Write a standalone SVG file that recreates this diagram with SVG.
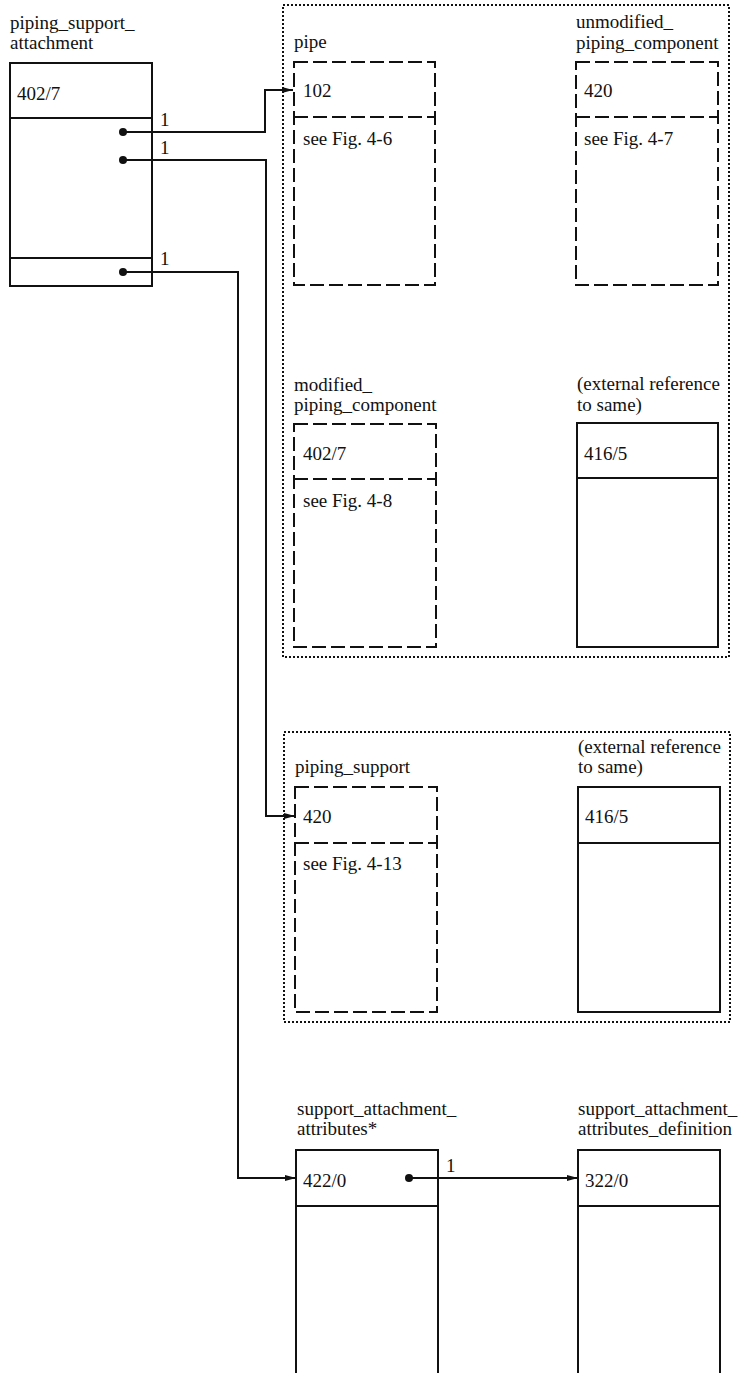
<svg xmlns="http://www.w3.org/2000/svg" width="742" height="1373" viewBox="0 0 742 1373">
<style>
text{font-family:"Liberation Serif","Times New Roman",serif;font-size:19px;fill:#111}
.box{fill:none;stroke:#111;stroke-width:2}
.dash{fill:none;stroke:#111;stroke-width:2;stroke-dasharray:14 5}
.dot{fill:none;stroke:#111;stroke-width:2;stroke-dasharray:2 2}
.conn{fill:none;stroke:#111;stroke-width:2}
.end{fill:#111}
</style>
<defs>
<marker id="arr" markerUnits="userSpaceOnUse" markerWidth="12" markerHeight="8" refX="11" refY="3" orient="auto">
<path d="M0,0 L11,3 L0,6 z" fill="#111"/>
</marker>
</defs>
<rect width="742" height="1373" fill="#fff"/>

<g id="container-1"><rect class="dot" x="283" y="5" width="446" height="652"/></g>
<g id="container-2"><rect class="dot" x="284" y="732" width="446" height="290"/></g>

<g id="piping_support_attachment">
<text x="10" y="29">piping_support_</text>
<text x="10" y="49">attachment</text>
<rect class="box" x="10" y="63" width="142" height="223"/>
<line class="box" x1="10" y1="118" x2="152" y2="118"/>
<line class="box" x1="10" y1="258" x2="152" y2="258"/>
<text x="17" y="100">402/7</text>
</g>

<g id="pipe">
<text x="294" y="48">pipe</text>
<rect class="dash" x="294" y="62" width="141" height="223"/>
<line class="dash" x1="294" y1="117" x2="435" y2="117"/>
<text x="303" y="97">102</text>
<text x="303" y="145">see Fig. 4-6</text>
</g>

<g id="unmodified_piping_component">
<text x="576" y="28">unmodified_</text>
<text x="576" y="49">piping_component</text>
<rect class="dash" x="576" y="62" width="142" height="223"/>
<line class="dash" x1="576" y1="117" x2="718" y2="117"/>
<text x="584" y="97">420</text>
<text x="584" y="145">see Fig. 4-7</text>
</g>

<g id="modified_piping_component">
<text x="294" y="391">modified_</text>
<text x="294" y="411">piping_component</text>
<rect class="dash" x="294" y="424" width="142" height="223"/>
<line class="dash" x1="294" y1="479" x2="436" y2="479"/>
<text x="303" y="460">402/7</text>
<text x="303" y="507">see Fig. 4-8</text>
</g>

<g id="external-ref-1">
<text x="577" y="390">(external reference</text>
<text x="577" y="411">to same)</text>
<rect class="box" x="577" y="423" width="141" height="224"/>
<line class="box" x1="577" y1="478" x2="718" y2="478"/>
<text x="584" y="460">416/5</text>
</g>

<g id="piping_support">
<text x="295" y="773">piping_support</text>
<rect class="dash" x="295" y="787" width="142" height="225"/>
<line class="dash" x1="295" y1="843" x2="437" y2="843"/>
<text x="303" y="823">420</text>
<text x="303" y="870">see Fig. 4-13</text>
</g>

<g id="external-ref-2">
<text x="578" y="753">(external reference</text>
<text x="578" y="773">to same)</text>
<rect class="box" x="578" y="787" width="142" height="225"/>
<line class="box" x1="578" y1="843" x2="720" y2="843"/>
<text x="585" y="823">416/5</text>
</g>

<g id="support_attachment_attributes">
<text x="297" y="1115">support_attachment_</text>
<text x="297" y="1135">attributes*</text>
<path class="box" d="M296,1380 V1150 H438 V1380"/>
<line class="box" x1="296" y1="1206" x2="438" y2="1206"/>
<text x="303" y="1187">422/0</text>
</g>

<g id="support_attachment_attributes_definition">
<text x="578" y="1115">support_attachment_</text>
<text x="578" y="1135">attributes_definition</text>
<path class="box" d="M578,1380 V1150 H720 V1380"/>
<line class="box" x1="578" y1="1206" x2="720" y2="1206"/>
<text x="585" y="1187">322/0</text>
</g>

<g id="connectors">
<path class="conn" d="M123,132 H265 V90 H293" marker-end="url(#arr)"/>
<circle class="end" cx="123" cy="132" r="4"/>
<text x="160" y="126">1</text>
<path class="conn" d="M123,160 H266 V816 H295" marker-end="url(#arr)"/>
<circle class="end" cx="123" cy="160" r="4"/>
<text x="160" y="154">1</text>
<path class="conn" d="M123,272 H238 V1178 H296" marker-end="url(#arr)"/>
<circle class="end" cx="123" cy="272" r="4"/>
<text x="160" y="265">1</text>
<path class="conn" d="M409,1178 H578" marker-end="url(#arr)"/>
<circle class="end" cx="409" cy="1178" r="4"/>
<text x="446" y="1172">1</text>
</g>
</svg>
